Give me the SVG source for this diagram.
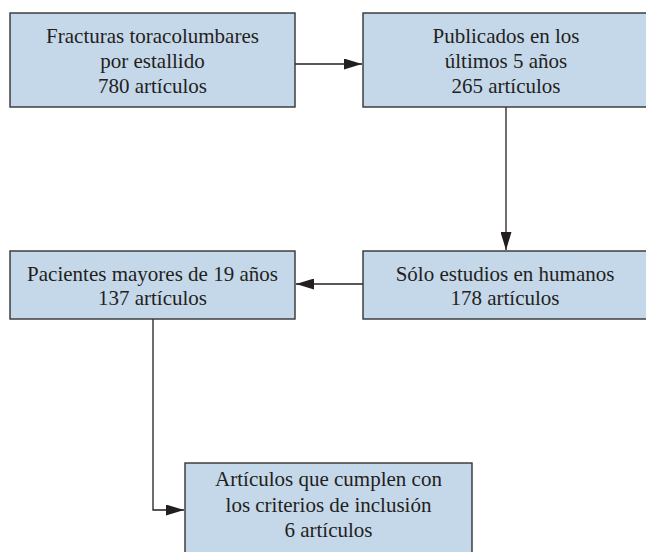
<svg xmlns="http://www.w3.org/2000/svg" width="646" height="552" viewBox="0 0 646 552">
<defs>
<style>
.box{fill:#c5d8ea;stroke:#333333;stroke-width:1.4}
.t{font-family:"Liberation Serif","Times New Roman",serif;font-size:21px;fill:#231f20;text-anchor:middle}
.c{fill:none;stroke:#231f20;stroke-width:1.3}
</style>
<marker id="ah" viewBox="0 0 18 11" refX="18" refY="5.5" markerWidth="18" markerHeight="11" markerUnits="userSpaceOnUse" orient="auto">
<path d="M0,0 L18,5.5 L0,11 Z" fill="#231f20"/>
</marker>
</defs>
<rect width="646" height="552" fill="#ffffff"/>
<g id="connectors">
<path class="c" d="M295,64 H362" marker-end="url(#ah)"/>
<path class="c" d="M506,107 V250" marker-end="url(#ah)"/>
<path class="c" d="M363,284 H296" marker-end="url(#ah)"/>
<path class="c" d="M153,319 V510 H184" marker-end="url(#ah)"/>
</g>
<g id="n1">
<rect class="box" x="10" y="13" width="285" height="94"/>
<text class="t" x="152.5" y="43">Fracturas toracolumbares</text>
<text class="t" x="152.5" y="68">por estallido</text>
<text class="t" x="152.5" y="93">780 artículos</text>
</g>
<g id="n2">
<rect class="box" x="363" y="13" width="290" height="94"/>
<text class="t" x="506" y="43">Publicados en los</text>
<text class="t" x="506" y="68">últimos 5 años</text>
<text class="t" x="506" y="93">265 artículos</text>
</g>
<g id="n3">
<rect class="box" x="10" y="251" width="285" height="68"/>
<text class="t" x="152.5" y="281">Pacientes mayores de 19 años</text>
<text class="t" x="152.5" y="305">137 artículos</text>
</g>
<g id="n4">
<rect class="box" x="363" y="251" width="290" height="68"/>
<text class="t" x="505" y="281">Sólo estudios en humanos</text>
<text class="t" x="505" y="305">178 artículos</text>
</g>
<g id="n5">
<rect class="box" x="185" y="463" width="287" height="100"/>
<text class="t" x="328.5" y="486">Artículos que cumplen con</text>
<text class="t" x="328.5" y="512">los criterios de inclusión</text>
<text class="t" x="328.5" y="537">6 artículos</text>
</g>
</svg>
